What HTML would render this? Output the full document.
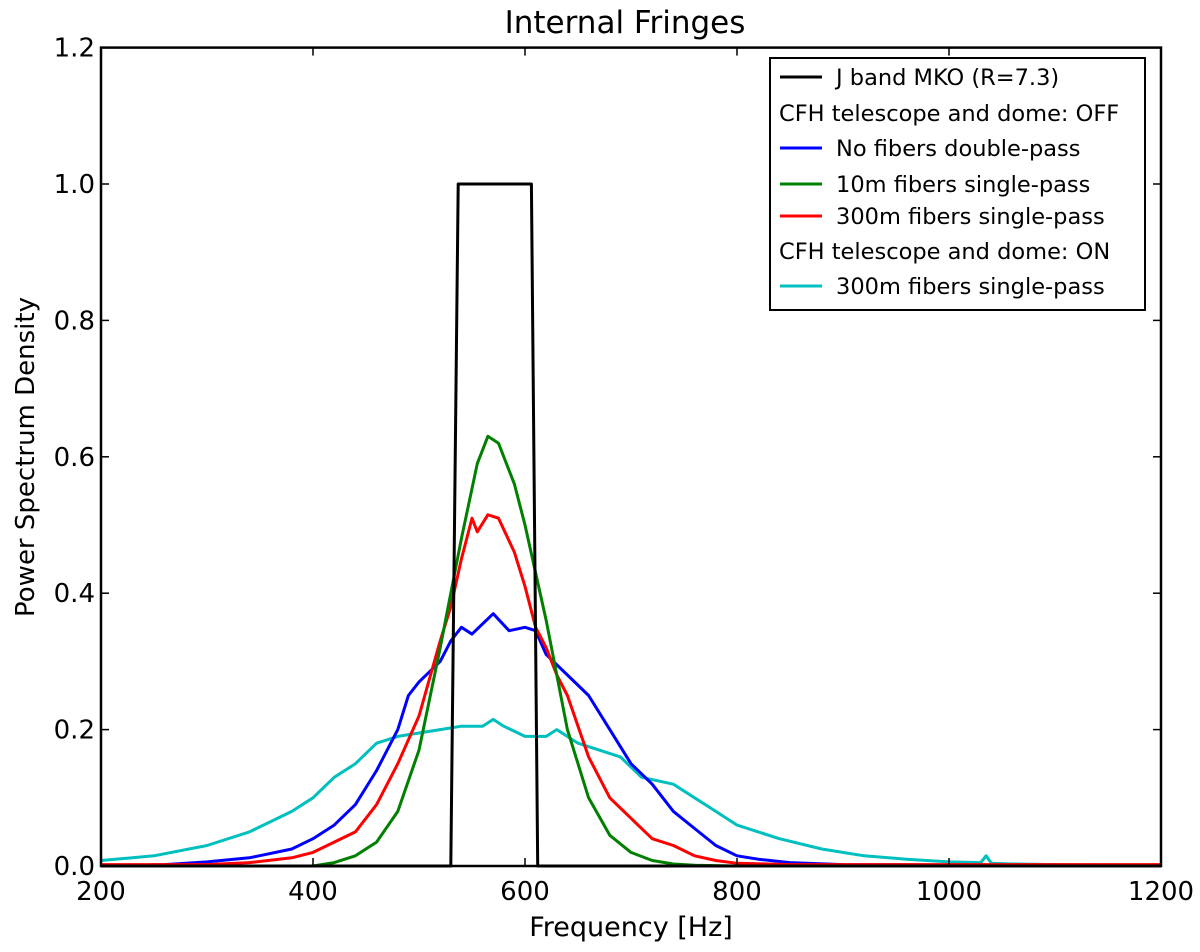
<!DOCTYPE html>
<html><head><meta charset="utf-8"><style>body{margin:0;background:#fff}svg{display:block;font-family:"DejaVu Sans","Liberation Sans",sans-serif}</style></head>
<body>
<svg id="chart" width="1200" height="952"></svg>
<script>
const xTicks=[200,400,600,800,1000,1200];
const yTicks=[0.0,0.2,0.4,0.6,0.8,1.0,1.2];
const jbandX=[200,530,537,606,612,1200];
const jbandY=[0,0,1,1,0,0];
const greenX=[200,400,420,440,460,480,500,520,540,555,565,575,590,600,620,640,660,680,700,720,740,760,800,1200];
const greenY=[0,0,0.005,0.015,0.035,0.08,0.17,0.32,0.48,0.59,0.63,0.62,0.56,0.5,0.36,0.2,0.1,0.045,0.02,0.008,0.003,0.001,0,0];
const redX=[200,300,340,380,400,420,440,460,480,500,520,530,540,550,555,565,575,590,600,610,620,630,640,660,680,700,720,740,760,780,800,850,1200];
const redY=[0.002,0.002,0.005,0.012,0.02,0.035,0.05,0.09,0.15,0.22,0.33,0.38,0.45,0.51,0.49,0.515,0.51,0.46,0.41,0.35,0.32,0.28,0.25,0.16,0.1,0.07,0.04,0.03,0.015,0.008,0.004,0.002,0.002];
const blueX=[200,260,300,340,380,400,420,440,460,480,490,500,520,530,540,550,570,585,600,610,620,640,660,680,700,720,740,760,780,800,820,850,900,1200];
const blueY=[0,0.002,0.006,0.012,0.025,0.04,0.06,0.09,0.14,0.2,0.25,0.27,0.3,0.33,0.35,0.34,0.37,0.345,0.35,0.345,0.31,0.28,0.25,0.2,0.15,0.12,0.08,0.055,0.03,0.015,0.01,0.005,0.002,0];
const cyanX=[200,250,300,340,380,400,420,440,460,480,500,520,540,560,570,580,600,620,630,650,670,690,710,740,760,780,800,840,880,920,960,1000,1030,1035,1040,1060,1100,1200];
const cyanY=[0.008,0.015,0.03,0.05,0.08,0.1,0.13,0.15,0.18,0.19,0.195,0.2,0.205,0.205,0.215,0.205,0.19,0.19,0.2,0.18,0.17,0.16,0.13,0.12,0.1,0.08,0.06,0.04,0.025,0.015,0.01,0.006,0.005,0.015,0.004,0.003,0.002,0.001];
const L=101,R=1161,B=866,T=47.6;
const sx=v=>L+(v-200)/1000*(R-L);
const sy=v=>B-v/1.2*(B-T);
const NS="http://www.w3.org/2000/svg";
const svg=document.getElementById('chart');
function mk(tag,attrs,parent){const e=document.createElementNS(NS,tag);for(const k in attrs)e.setAttribute(k,attrs[k]);(parent||svg).appendChild(e);return e;}
function series(xs,ys,color,name){
  const d=xs.map((x,i)=>(i?'L':'M')+sx(x).toFixed(1)+','+sy(ys[i]).toFixed(1)).join('');
  const p=mk('path',{d:d,fill:'none',stroke:color,'stroke-width':3,'stroke-linejoin':'round'});
  
  
}
series(cyanX,cyanY,'#00bfbf','series-cyan-300m-on');
series(blueX,blueY,'#0000ff','series-no-fibers');
series(redX,redY,'#ff0000','series-300m-off');
series(greenX,greenY,'#008000','series-10m');
series(jbandX,jbandY,'#000000','series-jband');
const frame=mk('rect',{x:L,y:T,width:R-L,height:B-T,fill:'none',stroke:'#000','stroke-width':2.5});


xTicks.forEach(v=>{
  mk('line',{x1:sx(v),x2:sx(v),y1:B,y2:B-8,stroke:'#000','stroke-width':1.5});
  mk('line',{x1:sx(v),x2:sx(v),y1:T,y2:T+8,stroke:'#000','stroke-width':1.5});
  const t=mk('text',{x:sx(v),y:B+34,'font-size':26,'text-anchor':'middle'});t.textContent=v;
  
  
});
yTicks.forEach(v=>{
  mk('line',{x1:L,x2:L+8,y1:sy(v),y2:sy(v),stroke:'#000','stroke-width':1.5});
  mk('line',{x1:R,x2:R-8,y1:sy(v),y2:sy(v),stroke:'#000','stroke-width':1.5});
  const t=mk('text',{x:L-6,y:sy(v)+9,'font-size':26,'text-anchor':'end'});t.textContent=v.toFixed(1);
  
  
});
const title=mk('text',{x:625,y:33,'font-size':31,'text-anchor':'middle'});title.textContent='Internal Fringes';


const xl=mk('text',{x:631,y:936,'font-size':27,'text-anchor':'middle'});xl.textContent='Frequency [Hz]';


const yl=mk('text',{x:0,y:0,'font-size':26,'text-anchor':'middle',transform:'translate(34,457) rotate(-90)'});yl.textContent='Power Spectrum Density';


const lg=mk('g',{});


mk('rect',{x:770,y:58,width:375,height:252,fill:'#fff',stroke:'#000','stroke-width':2},lg);
const legLabels=['J band MKO (R=7.3)','CFH telescope and dome: OFF','No fibers double-pass','10m fibers single-pass','300m fibers single-pass','CFH telescope and dome: ON','300m fibers single-pass'];
const legColors=['#000','','#0000ff','#008000','#ff0000','','#00bfbf'];
const legY=[77,113,148,184,216,251,286];
legLabels.forEach((s,i)=>{
  const hasLine=legColors[i]!=='';
  if(hasLine){mk('line',{x1:780,x2:822,y1:legY[i],y2:legY[i],stroke:legColors[i],'stroke-width':3},lg);}
  const t=mk('text',{x:hasLine?836:779,y:legY[i]+8,'font-size':22.5},lg);t.textContent=s;
  
  
});
</script>
</body></html>
